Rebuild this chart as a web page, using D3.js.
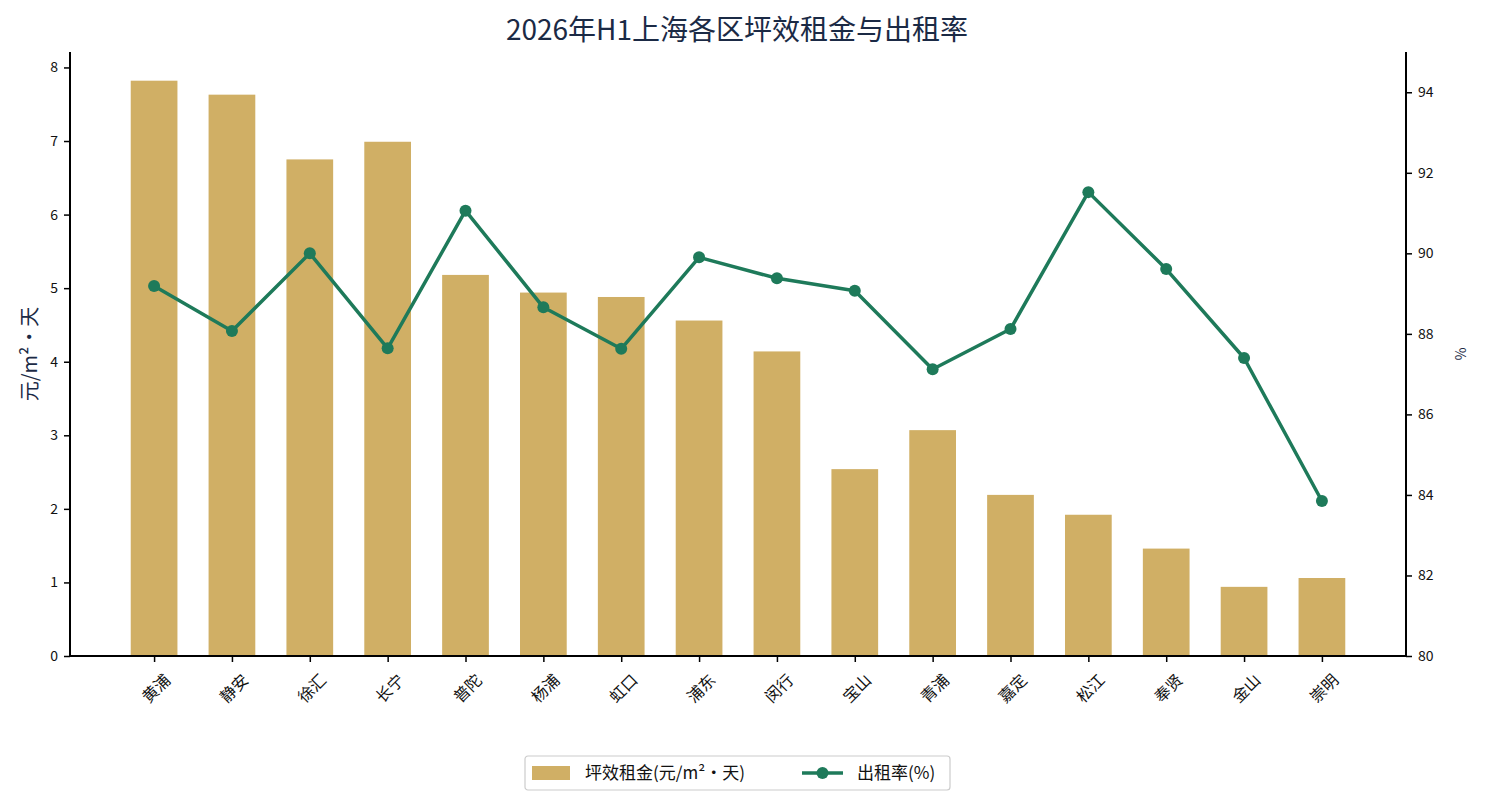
<!DOCTYPE html>
<html>
<head>
<meta charset="utf-8">
<script src="https://cdn.jsdelivr.net/npm/d3@7"></script>
<style>
  body { margin: 0; background: #fff; }
  text { font-family: "Noto Sans CJK SC", "DejaVu Sans", sans-serif; }
</style>
</head>
<body>
<div id="chart"></div>
<script>
// data
const districts = ["黄浦", "静安", "徐汇", "长宁", "普陀", "杨浦", "虹口", "浦东",
                   "闵行", "宝山", "青浦", "嘉定", "松江", "奉贤", "金山", "崇明"];
const rent = [7.82, 7.63, 6.75, 6.99, 5.18, 4.94, 4.88, 4.56,
              4.14, 2.54, 3.07, 2.19, 1.92, 1.46, 0.94, 1.06];
const occupancy = [89.19, 88.07, 90.0, 87.64, 91.06, 88.66, 87.63, 89.9,
                   89.38, 89.07, 87.12, 88.12, 91.52, 89.61, 87.4, 83.85];
const leftTicks = [0, 1, 2, 3, 4, 5, 6, 7, 8];
const rightTicks = [80, 82, 84, 86, 88, 90, 92, 94];

const W = 1485, H = 805;
const margin = {top: 52, right: 79, bottom: 149, left: 70};
const width = W - margin.left - margin.right;
const height = H - margin.top - margin.bottom;

const barColor = "#D0AF65";
const lineColor = "#1E7A5A";
const navy = "#1B2A45";

const svg = d3.select("#chart").append("svg")
    .attr("width", W)
    .attr("height", H);

const g = svg.append("g")
    .attr("transform", "translate(" + margin.left + "," + margin.top + ")");

// x is index based, with matplotlib-like margins
const x = d3.scaleLinear().domain([-1.08, districts.length - 1 + 1.08]).range([0, width]);
const yL = d3.scaleLinear().domain([0, 8.21]).range([height, 0]);
const yR = d3.scaleLinear().domain([80, 95]).range([height, 0]);
const barW = x(0.6) - x(0);

// bars
g.selectAll(".bar")
    .data(rent)
    .enter().append("rect")
    .attr("class", "bar")
    .attr("x", (d, i) => x(i) - barW / 2)
    .attr("y", d => yL(d))
    .attr("width", barW)
    .attr("height", d => height - yL(d))
    .attr("fill", barColor);

// line
const line = d3.line()
    .x((d, i) => x(i))
    .y(d => yR(d));

g.append("path")
    .datum(occupancy)
    .attr("fill", "none")
    .attr("stroke", lineColor)
    .attr("stroke-width", 3.5)
    .attr("stroke-linejoin", "round")
    .attr("d", line);

g.selectAll(".dot")
    .data(occupancy)
    .enter().append("circle")
    .attr("cx", (d, i) => x(i))
    .attr("cy", d => yR(d))
    .attr("r", 6)
    .attr("fill", lineColor);

// axes
const xAxis = d3.axisBottom(x)
    .tickValues(d3.range(districts.length))
    .tickFormat(i => districts[i])
    .tickSizeOuter(0)
    .tickSize(6);

const gx = g.append("g")
    .attr("transform", "translate(0," + height + ")")
    .call(xAxis);
gx.selectAll("text")
    .attr("font-size", 16)
    .attr("fill", "#111")
    .attr("text-anchor", "end")
    .attr("dy", null)
    .attr("transform", "translate(14,22) rotate(-45)")
    .attr("x", 0)
    .attr("y", 0)
    .attr("dominant-baseline", "middle");

const gyL = g.append("g")
    .call(d3.axisLeft(yL).tickValues(leftTicks).tickFormat(d3.format("d")).tickSizeOuter(0).tickSize(6));
gyL.selectAll("text").attr("font-size", 14).attr("fill", "#111").attr("x", -12);

const gyR = g.append("g")
    .attr("transform", "translate(" + width + ",0)")
    .call(d3.axisRight(yR).tickValues(rightTicks).tickFormat(d3.format("d")).tickSizeOuter(0).tickSize(6));
gyR.selectAll("text").attr("font-size", 14).attr("fill", "#111").attr("x", 12);

[gx, gyL, gyR].forEach(a => {
    a.select(".domain").remove();
    a.selectAll(".tick line").attr("stroke", "#000").attr("stroke-width", 1.5);
});

// spines: left, right, bottom
g.append("line").attr("x1", 0).attr("x2", 0).attr("y1", 0).attr("y2", height)
    .attr("stroke", "#000").attr("stroke-width", 2);
g.append("line").attr("x1", width).attr("x2", width).attr("y1", 0).attr("y2", height)
    .attr("stroke", "#000").attr("stroke-width", 2);
g.append("line").attr("x1", -1).attr("x2", width + 1).attr("y1", height).attr("y2", height)
    .attr("stroke", "#000").attr("stroke-width", 2);

// axis titles
svg.append("text")
    .attr("transform", "translate(37," + (margin.top + height / 2) + ") rotate(-90)")
    .attr("text-anchor", "middle")
    .attr("font-size", 20)
    .attr("fill", navy)
    .text("元/m²·天");

svg.append("text")
    .attr("transform", "translate(1455," + (margin.top + height / 2) + ") rotate(90)")
    .attr("text-anchor", "middle")
    .attr("font-size", 14)
    .attr("fill", navy)
    .text("%");

// title
svg.append("text")
    .attr("x", 737)
    .attr("y", 40)
    .attr("text-anchor", "middle")
    .attr("font-size", 28)
    .attr("fill", navy)
    .text("2026年H1上海各区坪效租金与出租率");

// legend
const lg = svg.append("g").attr("transform", "translate(525,756)");
lg.append("rect")
    .attr("width", 425).attr("height", 34)
    .attr("rx", 3)
    .attr("fill", "#fff")
    .attr("stroke", "#ccc")
    .attr("stroke-width", 1.2);
lg.append("rect")
    .attr("x", 7).attr("y", 10)
    .attr("width", 38).attr("height", 14)
    .attr("fill", barColor);
lg.append("text")
    .attr("x", 60).attr("y", 23)
    .attr("font-size", 17).attr("fill", "#111")
    .text("坪效租金(元/m²·天)");
lg.append("line")
    .attr("x1", 277).attr("x2", 318).attr("y1", 17).attr("y2", 17)
    .attr("stroke", lineColor).attr("stroke-width", 3.5);
lg.append("circle")
    .attr("cx", 297.5).attr("cy", 17).attr("r", 6)
    .attr("fill", lineColor);
lg.append("text")
    .attr("x", 332).attr("y", 23)
    .attr("font-size", 17).attr("fill", "#111")
    .text("出租率(%)");
</script>
</body>
</html>
